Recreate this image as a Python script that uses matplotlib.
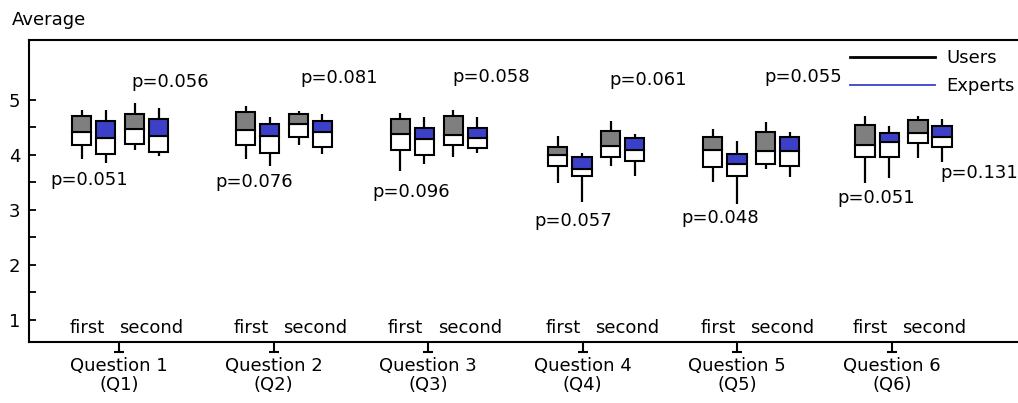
import numpy as np
import matplotlib
matplotlib.use("Agg")
import matplotlib.pyplot as plt
from matplotlib.lines import Line2D
from matplotlib.transforms import blended_transform_factory

plt.rcParams['font.family'] = ['DejaVu Sans']
plt.rcParams['font.size'] = 13

questions = ['Question 1\n(Q1)', 'Question 2\n(Q2)', 'Question 3\n(Q3)',
             'Question 4\n(Q4)', 'Question 5\n(Q5)', 'Question 6\n(Q6)']

# each box: [whisker low, Q1, median, Q3, whisker high]
users_first = [[3.92, 4.17, 4.42, 4.71, 4.82], [3.93, 4.18, 4.45, 4.78, 4.88],
               [3.71, 4.09, 4.38, 4.65, 4.76], [3.48, 3.80, 4.00, 4.15, 4.35],
               [3.51, 3.77, 4.09, 4.33, 4.47], [3.48, 3.96, 4.18, 4.55, 4.71]]
experts_first = [[3.85, 4.02, 4.31, 4.62, 4.82], [3.80, 4.03, 4.35, 4.56, 4.69],
                 [3.83, 4.00, 4.29, 4.48, 4.69], [3.14, 3.62, 3.74, 3.96, 4.03],
                 [3.10, 3.62, 3.84, 4.02, 4.25], [3.58, 3.96, 4.24, 4.39, 4.53]]
users_second = [[4.08, 4.20, 4.47, 4.74, 4.94], [4.18, 4.33, 4.56, 4.75, 4.79],
                [3.96, 4.18, 4.36, 4.71, 4.81], [3.80, 3.96, 4.16, 4.44, 4.62],
                [3.74, 3.83, 4.06, 4.41, 4.59], [3.95, 4.21, 4.39, 4.64, 4.71]]
experts_second = [[3.98, 4.05, 4.35, 4.66, 4.85], [4.02, 4.14, 4.41, 4.62, 4.75],
                  [4.04, 4.12, 4.31, 4.48, 4.69], [3.61, 3.88, 4.09, 4.30, 4.38],
                  [3.59, 3.80, 4.06, 4.33, 4.41], [3.86, 4.14, 4.33, 4.52, 4.65]]

p_first = ['p=0.051', 'p=0.076', 'p=0.096', 'p=0.057', 'p=0.048', 'p=0.051']
p_second = ['p=0.056', 'p=0.081', 'p=0.058', 'p=0.061', 'p=0.055', 'p=0.131']

# layout: where the boxes of each question sit, and where the p labels go
group_pos = [1.005, 2.066, 3.068, 4.087, 5.09, 6.077]
box_offsets = [-0.249, -0.093, 0.094, 0.249]
box_width = 0.126
p_first_dx = [-0.20, -0.19, -0.18, -0.15, -0.20, -0.18]
p_first_y = [3.55, 3.50, 3.33, 2.79, 2.85, 3.22]
p_second_dx = [0.326, 0.355, 0.337, 0.337, 0.34, 0.49]
p_second_y = [5.33, 5.39, 5.41, 5.36, 5.41, 3.67]

gray = '#7f7f7f'
blue = '#3c40c8'

fig = plt.figure(figsize=(10.18, 4.03), dpi=100)
ax = fig.add_axes([0.0288, 0.1526, 0.9712, 0.7481])


def draw_box(x, stats, color):
    lo, q1, med, q3, hi = stats
    ax.vlines(x, lo, hi, color='black', lw=1.6, zorder=1)
    ax.bar(x, med - q1, bottom=q1, width=box_width, color='white',
           edgecolor='black', linewidth=1.5, zorder=2)
    ax.bar(x, q3 - med, bottom=med, width=box_width, color=color,
           edgecolor='black', linewidth=1.5, zorder=2)


series = [(users_first, gray), (experts_first, blue),
          (users_second, gray), (experts_second, blue)]
for i, g in enumerate(group_pos):
    for (data, color), off in zip(series, box_offsets):
        draw_box(g + off, data[i], color)
    ax.text(g - 0.215, 0.85, 'first', ha='center', va='center')
    ax.text(g + 0.20, 0.85, 'second', ha='center', va='center')
    ax.text(g + p_first_dx[i], p_first_y[i], p_first[i], ha='center', va='center')
    ax.text(g + p_second_dx[i], p_second_y[i], p_second[i], ha='center', va='center')

ax.set_xlim(0.4175, 6.817)
ax.set_ylim(0.6, 6.09)

xt = np.arange(1, len(questions) + 1)
ax.set_xticks(xt)
ax.set_xticklabels(questions)
for lab in ax.get_xticklabels():
    lab.set_linespacing(1.05)
ax.tick_params(axis='x', direction='out', length=8, width=1.5, pad=3.5)
trans = blended_transform_factory(ax.transData, ax.transAxes)
ax.plot(xt, np.full(len(xt), -0.036), ls='none', marker='_', ms=7, mew=1.5,
        color='black', transform=trans, clip_on=False)

ax.set_yticks([1, 2, 3, 4, 5])
ax.set_yticks([1.5, 2.5, 3.5, 4.5], minor=True)
ax.tick_params(axis='y', which='both', direction='in', length=5, width=1.3, pad=6.5)

for side in ['left', 'top', 'bottom']:
    ax.spines[side].set_linewidth(1.5)
ax.spines['right'].set_visible(False)

handles = [Line2D([], [], color='black', lw=2),
           Line2D([], [], color=blue, lw=1.3)]
ax.legend(handles, ['Users', 'Experts'], loc='upper left',
          bbox_to_anchor=(0.830, 0.97), frameon=False, borderpad=0,
          borderaxespad=0, handlelength=4.7, handletextpad=0.65,
          labelspacing=0.55)

fig.text(12 / 1018, 0.950, 'Average', ha='left', va='center')

fig.savefig('out.png', dpi=100)
